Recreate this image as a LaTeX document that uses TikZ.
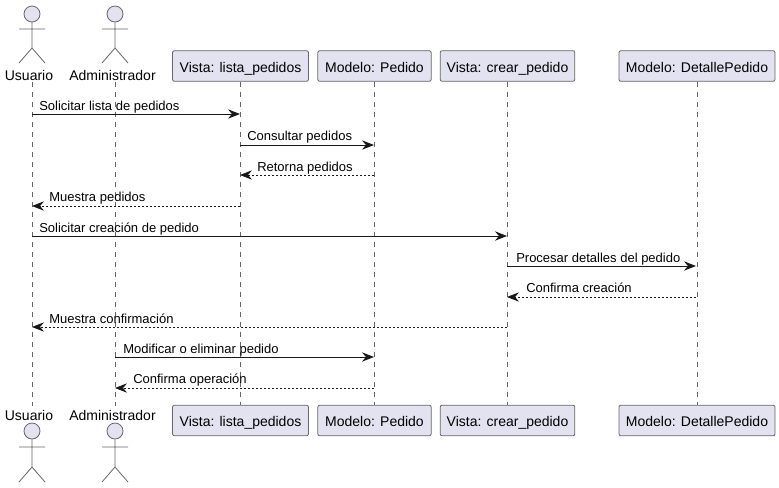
\documentclass[tikz,border=0pt]{standalone}
\usepackage{fontspec}
\setmainfont{Liberation Sans}
\usetikzlibrary{arrows.meta}
\definecolor{boxfill}{HTML}{E2E2F0}
\definecolor{inkline}{HTML}{181818}
\definecolor{boxline}{HTML}{666666}
\begin{document}
\begin{tikzpicture}[x=0.75pt,y=-0.75pt,
		>={Stealth[length=9pt,width=7pt,inset=3pt]},
		boxnode/.style={rectangle,rounded corners=1.5pt,draw=boxline,line width=0.6pt,fill=boxfill,minimum height=23pt,inner sep=0pt,text height=10pt,text depth=1pt,font=\fontsize{10.5}{12}\selectfont},
		headnode/.style={circle,draw=boxline,line width=0.6pt,fill=boxfill,minimum size=12pt,inner sep=0pt},
		namenode/.style={inner sep=0pt,text height=8pt,text depth=2pt,font=\fontsize{10.5}{12}\selectfont},
		msgnode/.style={anchor=base west,inner sep=0pt,font=\fontsize{9.75}{11}\selectfont},
		stick/.style={draw=boxline,line width=0.6pt},
		lifeline/.style={draw=boxline,line width=0.5pt,dash pattern=on 3.75pt off 3.75pt},
		call/.style={->,draw=inkline,line width=0.75pt},
		reply/.style={->,draw=inkline,line width=0.6pt,dash pattern=on 1.5pt off 1.5pt}]
		\useasboundingbox (0,0) rectangle (779,487);

		% actors, top row
		\begin{scope}[shift={(32,0)}]
			\node[headnode] (h) at (0,14) {};
			\draw[stick] (h.south) -- (0,48) (-13,29) -- (13,29) (-13,63) -- (0,48) -- (13,63);
			\node[namenode] (usuario) at (-3,76) {Usuario};
			\coordinate (usuario top) at (0,82);
		\end{scope}
		\begin{scope}[shift={(115,0)}]
			\node[headnode] (h) at (0,14) {};
			\draw[stick] (h.south) -- (0,48) (-13,29) -- (13,29) (-13,63) -- (0,48) -- (13,63);
			\node[namenode] (admin) at (-2.5,76) {Administrador};
			\coordinate (admin top) at (0,82);
		\end{scope}

		% actors, bottom row
		\begin{scope}[shift={(32,0)}]
			\node[headnode] (h) at (0,431) {};
			\draw[stick] (h.south) -- (0,467) (-13,447) -- (13,447) (-13,482) -- (0,467) -- (13,482);
			\node[namenode] (usuario') at (-3,416) {Usuario};
			\coordinate (usuario end) at (0,406);
		\end{scope}
		\begin{scope}[shift={(115,0)}]
			\node[headnode] (h) at (0,431) {};
			\draw[stick] (h.south) -- (0,467) (-13,447) -- (13,447) (-13,482) -- (0,467) -- (13,482);
			\node[namenode] (admin') at (-2.5,416) {Administrador};
			\coordinate (admin end) at (0,406);
		\end{scope}

		% boxes
		\node[boxnode,minimum width=102pt] (lista) at (240.5,66) {Vista: lista\_pedidos};
		\node[boxnode,minimum width=85pt] (pedido) at (374.5,66) {Modelo: Pedido};
		\node[boxnode,minimum width=101pt] (crear) at (507.5,66) {Vista: crear\_pedido};
		\node[boxnode,minimum width=117pt] (detalle) at (697,66) {Modelo: DetallePedido};
		\node[boxnode,minimum width=102pt] (lista') at (240.5,420.5) {Vista: lista\_pedidos};
		\node[boxnode,minimum width=85pt] (pedido') at (374.5,420.5) {Modelo: Pedido};
		\node[boxnode,minimum width=101pt] (crear') at (507.5,420.5) {Vista: crear\_pedido};
		\node[boxnode,minimum width=117pt] (detalle') at (697,420.5) {Modelo: DetallePedido};

		% lifelines
		\draw[lifeline] (usuario top) -- (usuario end);
		\draw[lifeline] (admin top) -- (admin end);
		\draw[lifeline] (lista) -- (lista');
		\draw[lifeline] (pedido) -- (pedido');
		\draw[lifeline] (crear) -- (crear');
		\draw[lifeline] (detalle) -- (detalle');

		% messages
		\coordinate (u1) at (32,114);
		\coordinate (l1) at (240,114);
		\draw[call] (u1) -- (l1);
		\node[msgnode] (t1) at (39,110) {Solicitar lista de pedidos};

		\coordinate (l2) at (240,145);
		\coordinate (p2) at (374,145);
		\draw[call] (l2) -- (p2);
		\node[msgnode] (t2) at (247,140.5) {Consultar pedidos};

		\coordinate (p3) at (374,175);
		\coordinate (l3) at (240,175);
		\draw[reply] (p3) -- (l3);
		\node[msgnode] (t3) at (257,171) {Retorna pedidos};

		\coordinate (l4) at (240,206);
		\coordinate (u4) at (32,206);
		\draw[reply] (l4) -- (u4);
		\node[msgnode] (t4) at (49,201.5) {Muestra pedidos};

		\coordinate (u5) at (32,236);
		\coordinate (c5) at (507,236);
		\draw[call] (u5) -- (c5);
		\node[msgnode] (t5) at (39,232) {Solicitar creación de pedido};

		\coordinate (c6) at (507,266);
		\coordinate (d6) at (696,266);
		\draw[call] (c6) -- (d6);
		\node[msgnode] (t6) at (516,262) {Procesar detalles del pedido};

		\coordinate (d7) at (696,297);
		\coordinate (c7) at (507,297);
		\draw[reply] (d7) -- (c7);
		\node[msgnode] (t7) at (526,292.5) {Confirma creación};

		\coordinate (c8) at (507,327);
		\coordinate (u8) at (32,327);
		\draw[reply] (c8) -- (u8);
		\node[msgnode] (t8) at (49,323) {Muestra confirmación};

		\coordinate (a9) at (115,357);
		\coordinate (p9) at (374,357);
		\draw[call] (a9) -- (p9);
		\node[msgnode] (t9) at (123,353) {Modificar o eliminar pedido};

		\coordinate (p10) at (374,388);
		\coordinate (a10) at (115,388);
		\draw[reply] (p10) -- (a10);
		\node[msgnode] (t10) at (133,383.5) {Confirma operación};
	\end{tikzpicture}
\end{document}
